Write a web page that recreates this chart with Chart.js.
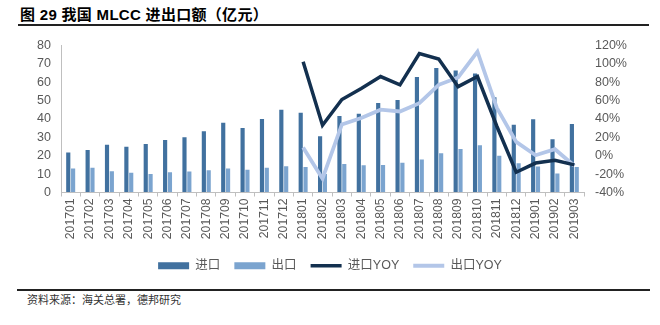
<!DOCTYPE html>
<html>
<head>
<meta charset="utf-8">
<script src="https://cdn.jsdelivr.net/npm/chart.js@4.4.1/dist/chart.umd.min.js"></script>
<style>
  html, body { margin:0; padding:0; background:#fff; }
  body { width:660px; height:325px; position:relative; overflow:hidden; font-family:"Liberation Sans","Noto Sans CJK SC",sans-serif; }
  #title { position:absolute; left:20px; top:3px; font-size:15px; font-weight:bold; color:#000; letter-spacing:0.3px; font-family:"Liberation Sans","Noto Sans CJK SC",sans-serif; white-space:pre; }
  #tline { position:absolute; left:18px; top:24px; width:631px; height:2px; background:#222; }
  #fline { position:absolute; left:17px; top:289px; width:633px; height:2px; background:#222; }
  #source { position:absolute; left:27px; top:291px; font-size:11px; color:#333; font-family:"Noto Sans CJK SC",sans-serif; white-space:nowrap; }
  #wrap { position:absolute; left:0; top:28px; width:660px; height:254px; }
</style>
</head>
<body>
<div id="title">图 29 我国 MLCC 进出口额（亿元）</div>
<div id="tline"></div>
<div id="wrap"><canvas id="c" width="660" height="254"></canvas></div>
<div id="fline"></div>
<div id="source">资料来源：海关总署，德邦研究</div>
<script>
const categories = ["201701","201702","201703","201704","201705","201706","201707","201708","201709","201710","201711","201712","201801","201802","201803","201804","201805","201806","201807","201808","201809","201810","201811","201812","201901","201902","201903"];
const importValues = [21.7,23.1,26.0,24.9,26.4,28.5,30.0,33.3,37.9,35.0,39.9,45.0,43.3,30.5,41.5,42.8,48.6,50.2,62.7,67.7,66.3,64.7,51.8,36.8,39.8,28.9,37.2];
const exportValues = [13.0,13.4,11.6,10.7,10.1,11.0,11.4,12.1,13.0,12.3,13.4,14.3,13.9,10.0,15.5,14.8,15.0,16.1,17.9,21.3,23.7,25.7,19.9,15.9,14.1,10.3,13.8];
const importYoy = [null,null,null,null,null,null,null,null,null,null,null,null,102,33,61,73,86,77,111,105,75,86,32,-18,-8,-5,-10];
const exportYoy = [null,null,null,null,null,null,null,null,null,null,null,null,9,-25,34,41,50,48,57,77,85,113,52,15,0.5,7,-11];
const leftTicks = [0,10,20,30,40,50,60,70,80];
const rightTicks = [-40,-20,0,20,40,60,80,100,120];

const tickFont = { family: "Liberation Sans, Noto Sans CJK SC, sans-serif", size: 12.5, lineHeight: 1 };
const tickColor = "#595959";

new Chart(document.getElementById("c"), {
  data: {
    labels: categories,
    datasets: [
      { type:"bar", label:"进口", data:importValues, backgroundColor:"#41719F", yAxisID:"y", order:2,
        categoryPercentage:0.5, barPercentage:0.86, pointStyle:"rect" },
      { type:"bar", label:"出口", data:exportValues, backgroundColor:"#7BA4CF", yAxisID:"y", order:2,
        categoryPercentage:0.5, barPercentage:0.86, pointStyle:"rect" },
      { type:"line", label:"进口YOY", data:importYoy, borderColor:"#13304F", backgroundColor:"#13304F", borderWidth:3.5,
        pointRadius:0, pointStyle:"line", yAxisID:"y1", order:1, tension:0, spanGaps:false },
      { type:"line", label:"出口YOY", data:exportYoy, borderColor:"#B3C6E8", backgroundColor:"#B3C6E8", borderWidth:3.8,
        pointRadius:0, pointStyle:"line", yAxisID:"y1", order:1, tension:0, spanGaps:false }
    ]
  },
  options: {
    responsive:false,
    animation:false,
    layout:{ padding:{ top:14, left:0, right:0, bottom:0 } },
    plugins:{
      tooltip:{ enabled:false },
      legend:{
        position:"bottom",
        labels:{
          usePointStyle:true, pointStyleWidth:31, boxHeight:7, boxWidth:31,
          color:tickColor, padding:14,
          font:{ family:"Liberation Sans, Noto Sans CJK SC, sans-serif", size:12.5 },
          sort:(a,b)=>a.datasetIndex-b.datasetIndex
        }
      }
    },
    scales:{
      x:{
        offset:true,
        grid:{ display:true, drawOnChartArea:false, drawTicks:true, tickLength:4, color:"#BFBFBF", offset:true },
        border:{ display:true, color:"#BFBFBF" },
        ticks:{ color:tickColor, font:{ family:"Liberation Sans, sans-serif", size:12.2 }, minRotation:90, maxRotation:90, autoSkip:false, padding:2 },
        afterFit:(s)=>{ s.height = 53; }
      },
      y:{
        position:"left", min:0, max:80,
        afterBuildTicks:(s)=>{ s.ticks = leftTicks.map(v=>({value:v})); },
        grid:{ display:true, drawOnChartArea:false, drawTicks:false, color:"#BFBFBF" },
        border:{ display:true, color:"#BFBFBF" },
        ticks:{ color:tickColor, font:tickFont, padding:10, autoSkip:false },
        afterFit:(s)=>{ s.width = 61; }
      },
      y1:{
        position:"right", min:-40, max:120,
        afterBuildTicks:(s)=>{ s.ticks = rightTicks.map(v=>({value:v})); },
        grid:{ display:false, drawTicks:false },
        border:{ display:false },
        ticks:{ color:tickColor, font:tickFont, padding:11, autoSkip:false, callback:(v)=>v+"%" },
        afterFit:(s)=>{ s.width = 76; }
      }
    }
  }
});
</script>
</body>
</html>
